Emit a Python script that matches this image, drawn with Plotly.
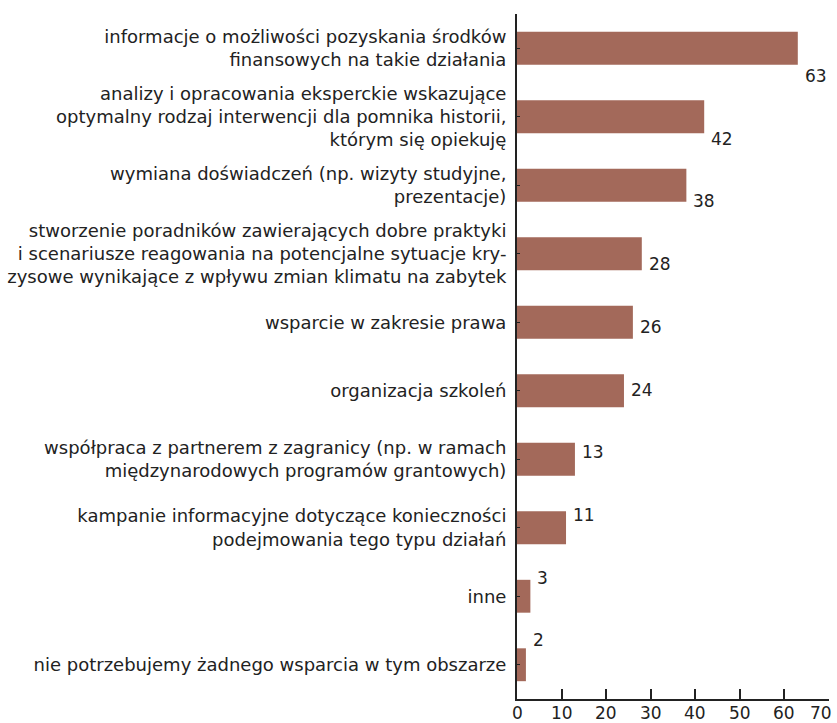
import plotly.graph_objects as go

categories = [
    "informacje o możliwości pozyskania środków<br>finansowych na takie działania",
    "analizy i opracowania eksperckie wskazujące<br>optymalny rodzaj interwencji dla pomnika historii,<br>którym się opiekuję",
    "wymiana doświadczeń (np. wizyty studyjne,<br>prezentacje)",
    "stworzenie poradników zawierających dobre praktyki<br>i scenariusze reagowania na potencjalne sytuacje kry-<br>zysowe wynikające z wpływu zmian klimatu na zabytek",
    "wsparcie w zakresie prawa",
    "organizacja szkoleń",
    "współpraca z partnerem z zagranicy (np. w ramach<br>międzynarodowych programów grantowych)",
    "kampanie informacyjne dotyczące konieczności<br>podejmowania tego typu działań",
    "inne",
    "nie potrzebujemy żadnego wsparcia w tym obszarze",
]
values = [63, 42, 38, 28, 26, 24, 13, 11, 3, 2]
x_ticks = [0, 10, 20, 30, 40, 50, 60, 70]

BAR_COLOR = "#a3695a"
TEXT_COLOR = "#222222"
FONT = "DejaVu Sans"

W, H = 837, 723
M_L, M_R, M_T, M_B = 517, 8, 14, 24
plot_h = H - M_T - M_B
n = len(categories)
step = plot_h / n

fig = go.Figure(go.Bar(
    x=values, y=categories, orientation="h",
    marker=dict(color=BAR_COLOR, line=dict(width=0)),
    width=0.48, hoverinfo="x+y",
))

# value labels: drift relative to bar centres as in the reference
label_first_px = 76
label_step_px = 62.7
for i, (c, v) in enumerate(zip(categories, values)):
    center_px = M_T + (i + 0.5) * step
    target_px = label_first_px + i * label_step_px
    fig.add_annotation(
        x=v, y=c, xref="x", yref="y", text=str(v), showarrow=False,
        xanchor="left", yanchor="middle", xshift=5,
        yshift=-(target_px - center_px),
        font=dict(family=FONT, size=17, color=TEXT_COLOR),
    )

# x tick labels as annotations (last one kept inside the canvas)
for t in x_ticks:
    last = t == x_ticks[-1]
    fig.add_annotation(
        x=t, y=0, xref="x", yref="paper", text=str(t), showarrow=False,
        xanchor="right" if last else "center", yanchor="middle",
        xshift=5 if last else 0, yshift=-14,
        font=dict(family=FONT, size=17, color=TEXT_COLOR),
    )

fig.update_layout(
    width=W, height=H,
    margin=dict(l=M_L, r=M_R, t=M_T, b=M_B, autoexpand=False),
    paper_bgcolor="white", plot_bgcolor="white",
    showlegend=False,
    font=dict(family=FONT, size=18, color=TEXT_COLOR),
    xaxis=dict(
        range=[0, 70], tickvals=x_ticks, showticklabels=False,
        showgrid=False, zeroline=False,
        showline=True, linecolor=TEXT_COLOR, linewidth=2,
        ticks="inside", ticklen=10, tickwidth=2, tickcolor=TEXT_COLOR,
        automargin=False, fixedrange=True,
    ),
    yaxis=dict(
        categoryorder="array", categoryarray=categories,
        range=[n - 0.5, -0.5],
        showgrid=False, zeroline=False,
        showline=True, linecolor=TEXT_COLOR, linewidth=2,
        ticks="inside", ticklen=3, tickwidth=1, tickcolor=TEXT_COLOR,
        tickfont=dict(family=FONT, size=18, color=TEXT_COLOR),
        ticklabelstandoff=5,
        automargin=False, fixedrange=True,
    ),
)

fig.write_html(
    "out.html",
    config={"displayModeBar": False},
    post_script="document.body.style.margin='0';document.body.style.padding='0';document.body.style.overflow='hidden';",
)
